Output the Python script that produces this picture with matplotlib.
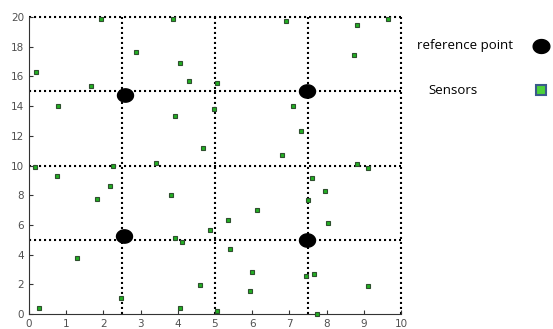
import numpy as np
import matplotlib.pyplot as plt
from matplotlib.path import Path
from matplotlib.lines import Line2D

# sensor positions
sensor_x = [1.94, 3.86, 0.19, 2.88, 4.07, 4.30, 1.66, 0.79, 3.93, 0.17, 2.26, 3.41,
            6.90, 8.81, 9.64, 8.74, 5.06, 4.97, 7.11, 7.30, 4.67, 6.79, 8.83, 9.10,
            0.74, 2.17, 1.83, 3.82, 3.93, 4.11, 1.29, 4.60, 2.46, 0.28, 4.07,
            7.62, 7.96, 7.49, 6.12, 5.36, 8.05, 4.87, 5.40, 5.99, 7.65, 7.45,
            5.94, 9.10, 5.06, 7.75]
sensor_y = [19.87, 19.84, 16.30, 17.64, 16.88, 15.69, 15.33, 14.03, 13.33, 9.92, 9.99, 10.15,
            19.75, 19.46, 19.87, 17.46, 15.58, 13.83, 13.98, 12.32, 11.20, 10.73, 10.10, 9.81,
            9.27, 8.62, 7.74, 8.04, 5.14, 4.85, 3.79, 1.95, 1.08, 0.38, 0.38,
            9.14, 8.26, 7.68, 7.03, 6.33, 6.15, 5.69, 4.38, 2.85, 2.67, 2.56,
            1.55, 1.91, 0.20, 0.02]

# reference points
ref_x = [2.58, 7.47, 2.55, 7.47]
ref_y = [14.75, 15.05, 5.25, 4.98]

grid_x = [2.5, 5, 7.5, 10]
grid_y = [5, 10, 15, 20]

# ellipse marker, a bit wider than tall
t = np.linspace(0, 2*np.pi, 60)
ell = Path(np.column_stack([1.2*np.cos(t), np.sin(t)]), closed=True)

fig = plt.figure(figsize=(5.53, 3.29), dpi=100)
ax = fig.add_axes([29/553, 1-314/329, 372/553, 297/329])

dots = (0, (1, 1.4))
for gx in grid_x:
    ax.plot([gx, gx], [0, 20], color="black", linestyle=dots, linewidth=1.5, clip_on=False, zorder=1)
for gy in grid_y:
    ax.plot([0, 10], [gy, gy], color="black", linestyle=dots, linewidth=1.5, clip_on=False, zorder=1)

ax.plot(sensor_x, sensor_y, linestyle="none", marker="s", markersize=3.3,
        markerfacecolor="#22b022", markeredgecolor="#2f4f2f", markeredgewidth=0.8,
        clip_on=False, zorder=3)
ax.plot(ref_x, ref_y, linestyle="none", marker=ell, markersize=11.5,
        color="black", clip_on=False, zorder=4)

ax.set_xlim(0, 10)
ax.set_ylim(0, 20)
ax.set_xticks(range(0, 11))
ax.set_yticks(range(0, 21, 2))
ax.spines["top"].set_visible(False)
ax.spines["right"].set_visible(False)
ax.spines["left"].set_color("#333333")
ax.spines["bottom"].set_color("#333333")
ax.tick_params(direction="in", length=3, labelsize=7.5, labelcolor="#505050", color="#333333")

# legend, drawn by hand to the right of the axes
fig.text(417/553, 1-46/329, "reference point", fontsize=9.5, family="Open Sans", va="center")
fig.text(428/553, 1-90/329, "Sensors", fontsize=9.5, family="Open Sans", va="center")
fig.add_artist(Line2D([541/553], [1-46/329], marker=ell, markersize=12, color="black",
                      linestyle="none", transform=fig.transFigure))
fig.add_artist(Line2D([541/553], [1-90/329], marker="s", markersize=7.5,
                      markerfacecolor="#4cd13a", markeredgecolor="#3a5a8a", markeredgewidth=1.5,
                      linestyle="none", transform=fig.transFigure))

fig.savefig("out.png", dpi=100)
